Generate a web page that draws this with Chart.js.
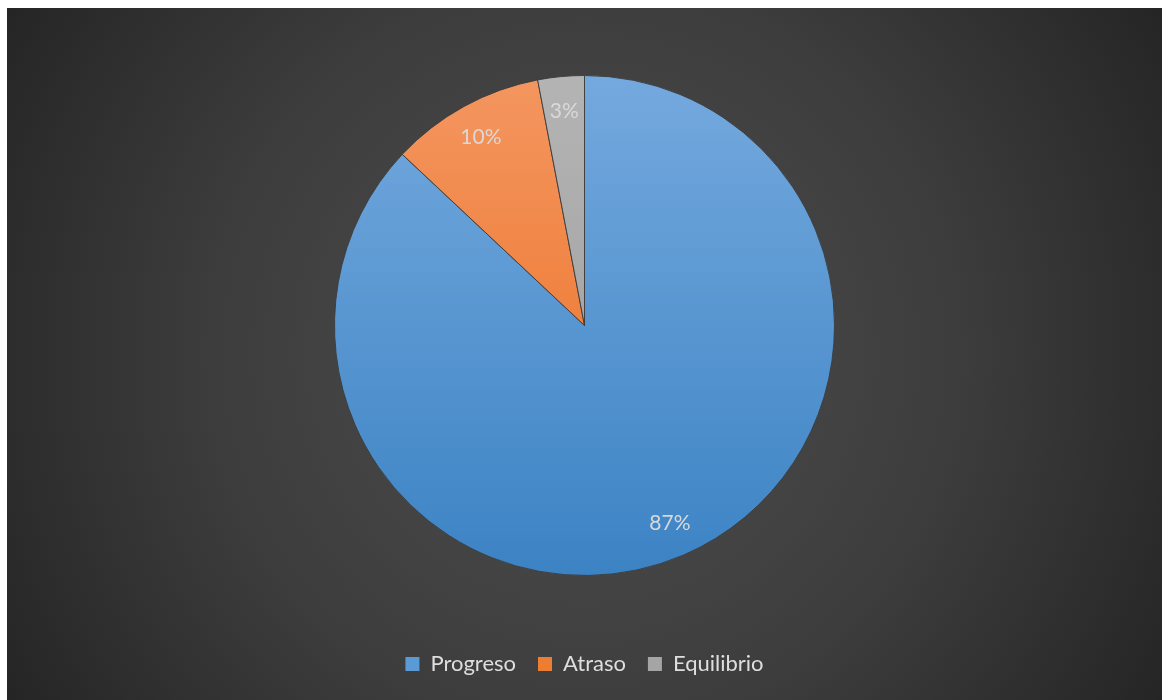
<!DOCTYPE html>
<html>
<head>
<meta charset="utf-8">
<script src="https://cdn.jsdelivr.net/npm/chart.js@4/dist/chart.umd.min.js"></script>
<style>
  html, body { margin: 0; padding: 0; background: #ffffff; }
  #wrap { position: absolute; left: 7px; top: 8px; width: 1155px; height: 692px; }
</style>
</head>
<body>
<div id="wrap"><canvas id="chartCanvas"></canvas></div>
<script>
// DATA
const categorias = ['Progreso', 'Atraso', 'Equilibrio'];
const porcentajes = [87, 10, 3];

// slice colours, light at the top of the pie and darker at the bottom
const coloresArriba = ['#74a9de', '#f49660', '#b4b4b4'];
const coloresAbajo = ['#3c83c4', '#eb6c1d', '#9a9a9a'];
const coloresPlanos = ['#5b9bd5', '#ed7d31', '#a5a5a5'];
const RADIO = 250;

function sliceFill(context) {
  const i = context.dataIndex;
  const chart = context.chart;
  const area = chart.chartArea;
  if (!area) return coloresPlanos[i];
  const cy = (area.top + area.bottom) / 2;
  const g = chart.ctx.createLinearGradient(0, cy - RADIO, 0, cy + RADIO);
  g.addColorStop(0, coloresArriba[i]);
  g.addColorStop(1, coloresAbajo[i]);
  return g;
}

// dark radial backdrop
const fondo = {
  id: 'fondo',
  beforeDraw(chart) {
    const { ctx, width, height } = chart;
    const cx = width / 2, cy = height / 2;
    const g = ctx.createRadialGradient(cx, cy, 0, cx, cy, Math.sqrt(cx * cx + cy * cy));
    g.addColorStop(0, '#4e4e4e');
    g.addColorStop(0.55, '#3d3d3d');
    g.addColorStop(1, '#252525');
    ctx.save();
    ctx.fillStyle = g;
    ctx.fillRect(0, 0, width, height);
    ctx.restore();
  }
};

// percentage labels inside each slice
const etiquetas = {
  id: 'etiquetas',
  afterDatasetsDraw(chart) {
    const { ctx } = chart;
    const meta = chart.getDatasetMeta(0);
    ctx.save();
    ctx.font = '21px Lato, "Open Sans", sans-serif';
    ctx.fillStyle = '#d9d9d9';
    ctx.textAlign = 'center';
    ctx.textBaseline = 'middle';
    meta.data.forEach((arc, i) => {
      const mid = (arc.startAngle + arc.endAngle) / 2;
      const r = arc.outerRadius * 0.86;
      ctx.fillText(porcentajes[i] + '%', arc.x + Math.cos(mid) * r, arc.y + Math.sin(mid) * r);
    });
    ctx.restore();
  }
};

const config = {
  type: 'pie',
  data: {
    labels: categorias,
    datasets: [{
      data: porcentajes,
      backgroundColor: sliceFill,
      borderColor: 'rgba(60,60,60,0.9)',
      borderWidth: 1,
      radius: RADIO
    }]
  },
  options: {
    responsive: true,
    maintainAspectRatio: false,
    animation: false,
    layout: { padding: { top: 12, bottom: 15, left: 0, right: 0 } },
    plugins: {
      tooltip: { enabled: false },
      legend: {
        position: 'bottom',
        labels: {
          color: '#dedede',
          font: { size: 22, family: 'Lato, "Open Sans", sans-serif' },
          boxWidth: 14,
          boxHeight: 14,
          padding: 22,
          generateLabels(chart) {
            return categorias.map((c, i) => ({
              text: c,
              fillStyle: coloresPlanos[i],
              strokeStyle: coloresPlanos[i],
              lineWidth: 0,
              fontColor: '#dedede',
              index: i,
              hidden: false
            }));
          }
        }
      }
    }
  },
  plugins: [fondo, etiquetas]
};

new Chart(document.getElementById('chartCanvas'), config);
</script>
</body>
</html>
